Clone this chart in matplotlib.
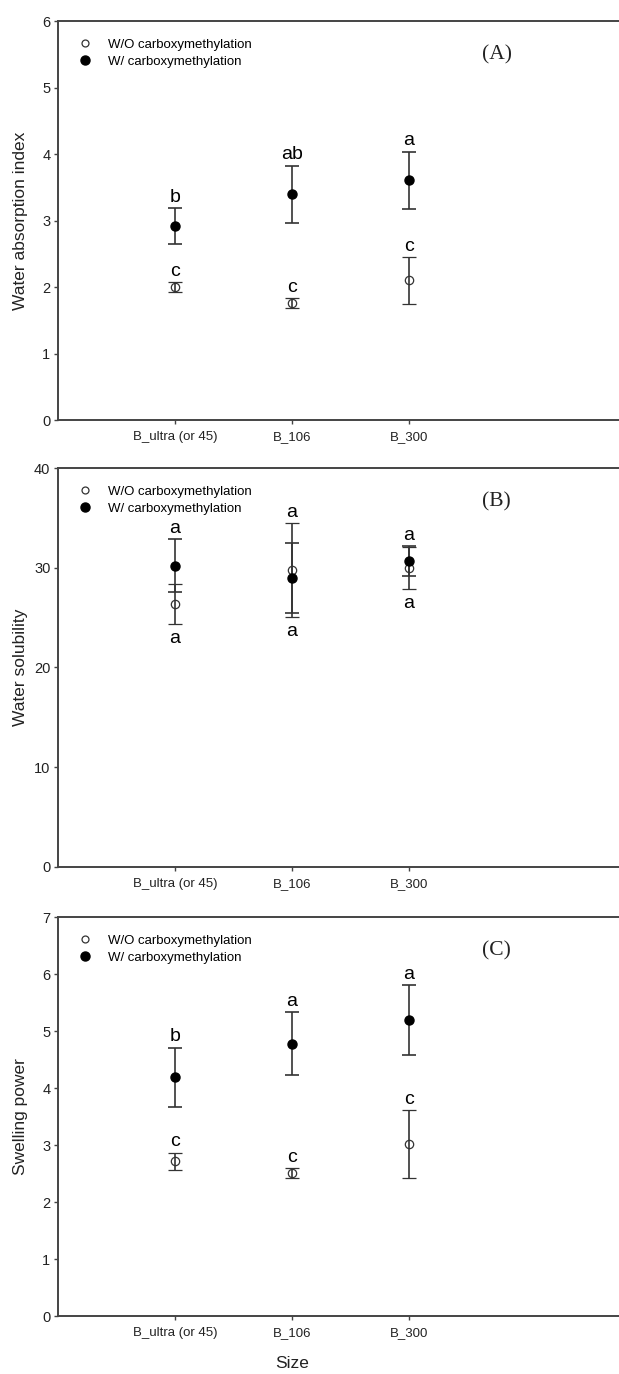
import numpy as np
import matplotlib
matplotlib.use('Agg')
import matplotlib.pyplot as plt
from matplotlib.lines import Line2D

plt.rcParams['font.family'] = ['Liberation Sans', 'DejaVu Sans']

sizes = ['B_ultra (or 45)', 'B_106', 'B_300']

# (A) water absorption index
wai_wo = [2.00, 1.76, 2.10]
wai_wo_err = [0.07, 0.08, 0.35]
wai_w = [2.92, 3.40, 3.61]
wai_w_err = [0.27, 0.43, 0.43]
wai_wo_letters = ['c', 'c', 'c']
wai_w_letters = ['b', 'ab', 'a']

# (B) water solubility
ws_wo = [26.4, 29.8, 30.0]
ws_wo_err = [2.0, 4.7, 2.1]
ws_w = [30.2, 29.0, 30.7]
ws_w_err = [2.65, 3.5, 1.5]
ws_wo_letters = ['a', 'a', 'a']
ws_w_letters = ['a', 'a', 'a']

# (C) swelling power
sp_wo = [2.72, 2.51, 3.02]
sp_wo_err = [0.15, 0.09, 0.60]
sp_w = [4.19, 4.78, 5.20]
sp_w_err = [0.52, 0.55, 0.61]
sp_wo_letters = ['c', 'c', 'c']
sp_w_letters = ['b', 'a', 'a']

ecol = '#333333'
spine_col = '#444444'


def draw_panel(ax, wo, wo_err, w, w_err, wo_let, w_let, ylabel, ymax, step, tag, split=False):
    x = np.arange(1, len(sizes) + 1)
    wo = np.array(wo); wo_err = np.array(wo_err)
    w = np.array(w); w_err = np.array(w_err)

    ax.errorbar(x, wo, yerr=wo_err, fmt='o', ms=6, mfc='none', mec=ecol, mew=0.9,
                ecolor=ecol, elinewidth=1.2, capsize=5, capthick=1.2, zorder=3)
    ax.errorbar(x, w, yerr=w_err, fmt='o', ms=6.5, mfc='black', mec='black',
                ecolor=ecol, elinewidth=1.2, capsize=5, capthick=1.2, zorder=4)

    # significance letters
    if split:
        top = np.maximum(wo + wo_err, w + w_err)
        bot = np.minimum(wo - wo_err, w - w_err)
        for xi, t, l in zip(x, top, w_let):
            ax.annotate(l, (xi, t), xytext=(0, 4.5), textcoords='offset points',
                        ha='center', va='baseline', fontsize=14)
        for xi, b, l in zip(x, bot, wo_let):
            ax.annotate(l, (xi, b), xytext=(0, -14), textcoords='offset points',
                        ha='center', va='baseline', fontsize=14)
    else:
        for xi, yv, e, l in zip(x, wo, wo_err, wo_let):
            ax.annotate(l, (xi, yv + e), xytext=(0, 4.5), textcoords='offset points',
                        ha='center', va='baseline', fontsize=14)
        for xi, yv, e, l in zip(x, w, w_err, w_let):
            ax.annotate(l, (xi, yv + e), xytext=(0, 4.5), textcoords='offset points',
                        ha='center', va='baseline', fontsize=14)

    ax.set_xlim(0, 5)
    ax.set_ylim(0, ymax)
    ax.set_xticks(x)
    ax.set_xticklabels(sizes)
    ax.set_yticks(np.arange(0, ymax + step / 2, step))
    ax.tick_params(direction='out', length=3, width=1.0, color=spine_col,
                   labelsize=9.5, labelcolor='#222222')
    ax.tick_params(axis='x', pad=5)
    ax.tick_params(axis='y', pad=2.5, labelsize=10.5)
    for s in ['left', 'bottom', 'top', 'right']:
        ax.spines[s].set_color(spine_col)
        ax.spines[s].set_linewidth(1.4)

    ax.set_ylabel(ylabel, fontsize=12.5, color='#222222')
    ax.yaxis.set_label_coords(-0.052, 0.5)

    handles = [Line2D([], [], ls='none', marker='o', ms=5, mfc='none', mec=ecol, mew=0.9),
               Line2D([], [], ls='none', marker='o', ms=6.5, mfc='black', mec='black')]
    ax.legend(handles, ['W/O carboxymethylation', 'W/ carboxymethylation'],
              loc='upper left', bbox_to_anchor=(0.035, 0.957), borderpad=0,
              borderaxespad=0, handlelength=1.0, handletextpad=1.25,
              labelspacing=0.36, frameon=False, fontsize=9.5)

    ax.text(0.75, 0.915, tag, transform=ax.transAxes, ha='center', va='center',
            fontsize=15.5, family='Liberation Serif', color='#222222')


fig = plt.figure(figsize=(6.19, 13.74), dpi=100)
left = 58 / 619
width = 585 / 619
ax1 = fig.add_axes([left, 0.6943, width, 0.2902])
ax2 = fig.add_axes([left, 0.3692, width, 0.2900])
ax3 = fig.add_axes([left, 0.0422, width, 0.2902])

draw_panel(ax1, wai_wo, wai_wo_err, wai_w, wai_w_err, wai_wo_letters, wai_w_letters,
           'Water absorption index', 6, 1, '(A)')
draw_panel(ax2, ws_wo, ws_wo_err, ws_w, ws_w_err, ws_wo_letters, ws_w_letters,
           'Water solubility', 40, 10, '(B)', split=True)
draw_panel(ax3, sp_wo, sp_wo_err, sp_w, sp_w_err, sp_wo_letters, sp_w_letters,
           'Swelling power', 7, 1, '(C)')

ax3.set_xlabel('Size', fontsize=12.5, color='#222222')
ax3.xaxis.set_label_coords(2 / 5, -0.1)

fig.savefig('out.png', dpi=100)
